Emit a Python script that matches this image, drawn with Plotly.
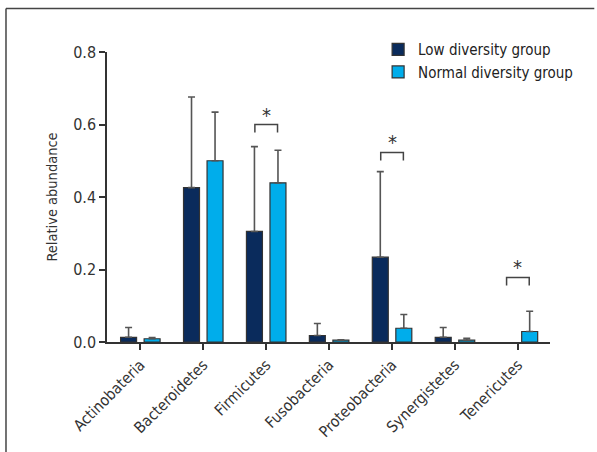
import plotly.graph_objects as go

categories = ["Actinobateria", "Bacteroidetes", "Firmicutes", "Fusobacteria",
              "Proteobacteria", "Synergistetes", "Tenericutes"]
low_mean = [0.013, 0.426, 0.305, 0.018, 0.234, 0.013, None]
low_upper = [0.040, 0.676, 0.539, 0.051, 0.470, 0.040, None]
normal_mean = [0.009, 0.500, 0.439, 0.005, 0.038, 0.005, 0.029]
normal_upper = [0.012, 0.634, 0.529, 0.006, 0.076, 0.010, 0.085]

sig_categories = ["Firmicutes", "Proteobacteria", "Tenericutes"]
sig_bracket_y = [0.600, 0.523, 0.178]

yticks = [0.0, 0.2, 0.4, 0.6, 0.8]

DARK = "#0a2b5c"
LIGHT = "#00adeb"
FONT = "'DejaVu Sans Condensed', 'Liberation Sans Narrow', 'Roboto Condensed', 'DejaVu Sans', sans-serif"

idx = list(range(len(categories)))


def up_err(upper, mean):
    return [None if (u is None or m is None) else u - m for u, m in zip(upper, mean)]


low_err = up_err(low_upper, low_mean)
normal_err = up_err(normal_upper, normal_mean)

bw = 0.254
half = 0.187

fig = go.Figure()
fig.add_trace(go.Bar(
    x=idx, y=low_mean, name="Low diversity group",
    width=bw, offset=-half - bw / 2,
    marker=dict(color=DARK, line=dict(color="#333333", width=1.2)),
    error_y=dict(type="data", symmetric=False, array=low_err,
                 arrayminus=[0] * len(idx), color="#555555", thickness=1.6, width=3.5),
))
fig.add_trace(go.Bar(
    x=idx, y=normal_mean, name="Normal diversity group",
    width=bw, offset=half - bw / 2,
    marker=dict(color=LIGHT, line=dict(color="#333333", width=1.2)),
    error_y=dict(type="data", symmetric=False, array=normal_err,
                 arrayminus=[0] * len(idx), color="#555555", thickness=1.6, width=3.5),
))

shapes = []
annotations = []
leg = 0.022
for cat, by in zip(sig_categories, sig_bracket_y):
    c = categories.index(cat)
    x0, x1 = c - 0.18, c + 0.18
    shapes.append(dict(type="path", xref="x", yref="y",
                       path=f"M {x0},{by - leg} L {x0},{by} L {x1},{by} L {x1},{by - leg}",
                       line=dict(color="#444444", width=1.5)))
    annotations.append(dict(x=c, y=by, xref="x", yref="y", text="*", showarrow=False,
                            yanchor="bottom", yshift=-4,
                            font=dict(family=FONT, size=20, color="#333333")))

# figure frame (top and left edges)
shapes.append(dict(type="line", xref="paper", yref="paper", x0=-0.228, x1=1.1, y0=1.15, y1=1.15,
                   line=dict(color="#444444", width=1.5)))
shapes.append(dict(type="line", xref="paper", yref="paper", x0=-0.228, x1=-0.228, y0=1.15, y1=-0.4,
                   line=dict(color="#444444", width=1.5)))

fig.update_layout(
    width=597, height=452,
    margin=dict(l=107, r=47, t=52, b=110, autoexpand=False),
    paper_bgcolor="white", plot_bgcolor="white",
    barmode="overlay",
    font=dict(family=FONT, size=15, color="#333333"),
    showlegend=True,
    legend=dict(x=0.612, y=1.065, xanchor="left", yanchor="top",
                bgcolor="rgba(0,0,0,0)",
                font=dict(family=FONT, size=15, color="#222222"),
                itemwidth=30, tracegroupgap=0),
    shapes=shapes, annotations=annotations,
    xaxis=dict(
        range=[-0.53, 6.51], tickmode="array", tickvals=idx, ticktext=categories,
        tickangle=-45, ticks="outside", ticklen=6, tickwidth=1.5, tickcolor="#333333",
        showline=True, linecolor="#333333", linewidth=1.5, showgrid=False, zeroline=False,
        automargin=False,
        tickfont=dict(family=FONT, size=15.5, color="#333333"),
    ),
    yaxis=dict(
        range=[0, 0.8], tickmode="array", tickvals=yticks, tickformat=".1f",
        ticks="outside", ticklen=6, tickwidth=1.5, tickcolor="#333333",
        showline=True, linecolor="#333333", linewidth=1.5, showgrid=False, zeroline=False,
        automargin=False,
        tickfont=dict(family=FONT, size=16, color="#333333"),
        title=dict(text="Relative abundance", font=dict(family=FONT, size=14.5, color="#333333"),
                   standoff=12),
    ),
)

fig.write_html("out.html", config={"displayModeBar": False},
               post_script="document.body.style.margin='0';document.body.style.overflow='hidden';")
